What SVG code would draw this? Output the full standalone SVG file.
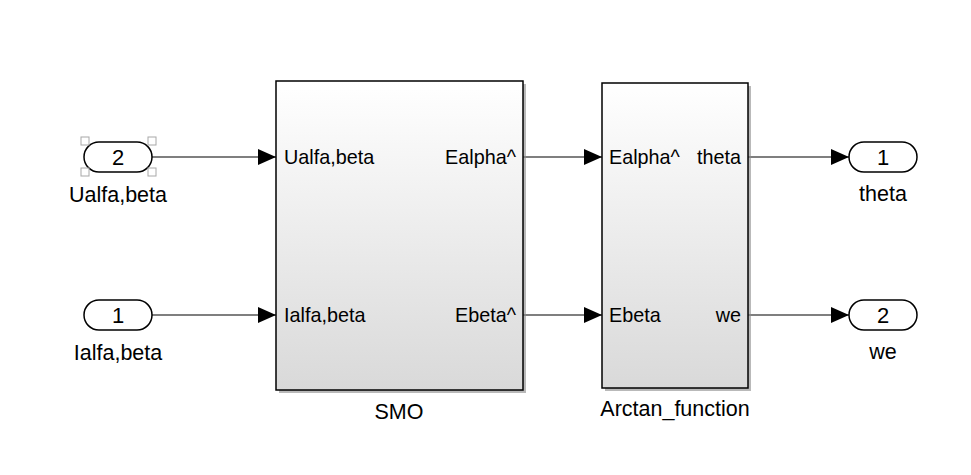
<svg xmlns="http://www.w3.org/2000/svg" width="971" height="475" viewBox="0 0 971 475">
<style>
text{font-family:"Liberation Sans",Arial,sans-serif;fill:#000}
.lbl{font-size:21.5px;text-anchor:middle}
.port{font-size:19.8px}
.num{font-size:22px;text-anchor:middle}
.blk{fill:url(#g);stroke:#000;stroke-width:1.5}
.shd{fill:#8a8a8a;opacity:.6}
.pill{fill:#fff;stroke:#000;stroke-width:1.5}
.line{stroke:#000;stroke-width:1.2;fill:none;marker-end:url(#arr)}
.hdl{fill:#fff;fill-opacity:.5;stroke:#a8a8a8;stroke-width:1}
</style>
<defs>
<linearGradient id="g" x1="0" y1="0" x2="0" y2="1">
<stop offset="0" stop-color="#ffffff"/>
<stop offset="1" stop-color="#d9d9d9"/>
</linearGradient>
<marker id="arr" markerWidth="18" markerHeight="16" refX="18" refY="8" orient="auto" markerUnits="userSpaceOnUse">
<path d="M0,0 L18,8 L0,16 Z" fill="#000"/>
</marker>
</defs>
<rect width="971" height="475" fill="#fff"/>
<g id="connectors">
<line class="line" x1="152" y1="157" x2="276" y2="157"/>
<line class="line" x1="152" y1="315" x2="276" y2="315"/>
<line class="line" x1="523" y1="157" x2="602" y2="157"/>
<line class="line" x1="523" y1="315" x2="602" y2="315"/>
<line class="line" x1="748" y1="157" x2="849" y2="157"/>
<line class="line" x1="748" y1="315" x2="849" y2="315"/>
</g>
<g id="in2">
<rect class="pill" x="84" y="142" width="68" height="30" rx="15"/>
<text class="num" x="118" y="165">2</text>
<text class="lbl" x="118" y="202">Ualfa,beta</text>
<rect class="hdl" x="81" y="137" width="8" height="8"/>
<rect class="hdl" x="148" y="137" width="8" height="8"/>
<rect class="hdl" x="81" y="168" width="8" height="8"/>
<rect class="hdl" x="148" y="168" width="8" height="8"/>
</g>
<g id="in1">
<rect class="pill" x="84" y="300" width="68" height="30" rx="15"/>
<text class="num" x="118" y="323">1</text>
<text class="lbl" x="118" y="360">Ialfa,beta</text>
</g>
<g id="smo">
<rect class="shd" x="279" y="84" width="247" height="309"/>
<rect class="blk" x="276" y="81" width="247" height="309"/>
<text class="port" x="284" y="164">Ualfa,beta</text>
<text class="port" x="284" y="322">Ialfa,beta</text>
<text class="port" x="516" y="164" text-anchor="end">Ealpha^</text>
<text class="port" x="516" y="322" text-anchor="end">Ebeta^</text>
<text class="lbl" x="399" y="419">SMO</text>
</g>
<g id="arctan">
<rect class="shd" x="605" y="86" width="146" height="305"/>
<rect class="blk" x="602" y="83" width="146" height="305"/>
<text class="port" x="609" y="164">Ealpha^</text>
<text class="port" x="609" y="322">Ebeta</text>
<text class="port" x="741" y="164" text-anchor="end">theta</text>
<text class="port" x="741" y="322" text-anchor="end">we</text>
<text class="lbl" x="675" y="416">Arctan_function</text>
</g>
<g id="out1">
<rect class="pill" x="849" y="142" width="68" height="30" rx="15"/>
<text class="num" x="883" y="165">1</text>
<text class="lbl" x="883" y="201">theta</text>
</g>
<g id="out2">
<rect class="pill" x="849" y="300" width="68" height="30" rx="15"/>
<text class="num" x="883" y="323">2</text>
<text class="lbl" x="883" y="359">we</text>
</g>
</svg>
